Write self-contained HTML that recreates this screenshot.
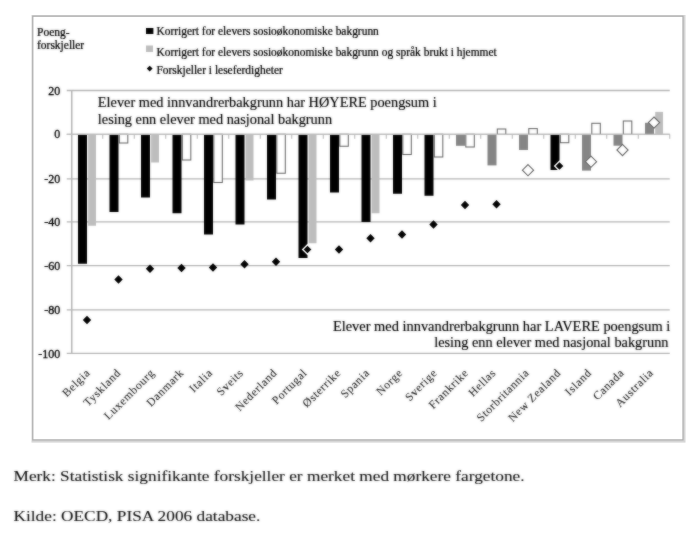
<!DOCTYPE html>
<html lang="no"><head><meta charset="utf-8"><title>Poengforskjeller i lesing</title>
<style>
html,body{margin:0;padding:0;background:#fff;}
body{width:700px;height:541px;overflow:hidden;position:relative;font-family:"Liberation Serif","Times New Roman",serif;}
svg{position:absolute;left:0;top:0;}
svg text{font-family:"Liberation Serif","Times New Roman",serif;fill:#0a0a0a;stroke:#0a0a0a;stroke-width:0.3px;}
.leg{font-size:11.45px;stroke-width:0.2px;}
.ann{font-size:14.33px;stroke-width:0.12px;}
.yl{font-size:12px;text-anchor:end;}
.xl{font-size:11.6px;letter-spacing:0.64px;text-anchor:end;stroke-width:0.05px;fill:#2a2a2a;stroke:#2a2a2a;}
.note{font-size:17.3px;stroke-width:0.1px;fill:#1c1c1c;stroke:#1c1c1c;}
</style></head><body>
<svg width="700" height="541" viewBox="0 0 700 541">
<defs><filter id="tb" x="0" y="0" width="700" height="541" filterUnits="userSpaceOnUse" color-interpolation-filters="sRGB"><feGaussianBlur in="SourceGraphic" stdDeviation="0.85" result="b"/><feComposite in="SourceGraphic" in2="b" operator="arithmetic" k1="0" k2="0.5" k3="0.6" k4="0"/></filter><filter id="sb" x="0" y="0" width="700" height="541" filterUnits="userSpaceOnUse" color-interpolation-filters="sRGB"><feGaussianBlur in="SourceGraphic" stdDeviation="0.85" result="b"/><feComposite in="SourceGraphic" in2="b" operator="arithmetic" k1="0" k2="0.55" k3="0.45" k4="0"/></filter></defs>
<rect x="31.5" y="15" width="654" height="427.6" fill="#d6d6d6"/>
<rect x="32.8" y="16.2" width="650.2" height="423.7" fill="#fff" stroke="#adadad" stroke-width="1.2"/>
<g filter="url(#sb)">
<g stroke="#b4b4b4" stroke-width="1.3">
<line x1="66.75" y1="90.5" x2="669.75" y2="90.5"/>
<line x1="66.75" y1="134.3" x2="669.75" y2="134.3"/>
<line x1="66.75" y1="178.9" x2="669.75" y2="178.9"/>
<line x1="66.75" y1="221.9" x2="669.75" y2="221.9"/>
<line x1="66.75" y1="265.6" x2="669.75" y2="265.6"/>
<line x1="66.75" y1="309.9" x2="669.75" y2="309.9"/>
<line x1="66.75" y1="353.4" x2="669.75" y2="353.4"/>
<line x1="71.75" y1="90.5" x2="71.75" y2="353.4" stroke-width="1.5"/>
<line x1="102.75" y1="134.3" x2="102.75" y2="138.8" stroke-width="1"/>
<line x1="134.25" y1="134.3" x2="134.25" y2="138.8" stroke-width="1"/>
<line x1="165.75" y1="134.3" x2="165.75" y2="138.8" stroke-width="1"/>
<line x1="197.25" y1="134.3" x2="197.25" y2="138.8" stroke-width="1"/>
<line x1="228.75" y1="134.3" x2="228.75" y2="138.8" stroke-width="1"/>
<line x1="260.25" y1="134.3" x2="260.25" y2="138.8" stroke-width="1"/>
<line x1="291.75" y1="134.3" x2="291.75" y2="138.8" stroke-width="1"/>
<line x1="323.25" y1="134.3" x2="323.25" y2="138.8" stroke-width="1"/>
<line x1="354.75" y1="134.3" x2="354.75" y2="138.8" stroke-width="1"/>
<line x1="386.25" y1="134.3" x2="386.25" y2="138.8" stroke-width="1"/>
<line x1="417.75" y1="134.3" x2="417.75" y2="138.8" stroke-width="1"/>
<line x1="449.25" y1="134.3" x2="449.25" y2="138.8" stroke-width="1"/>
<line x1="480.75" y1="134.3" x2="480.75" y2="138.8" stroke-width="1"/>
<line x1="512.25" y1="134.3" x2="512.25" y2="138.8" stroke-width="1"/>
<line x1="543.75" y1="134.3" x2="543.75" y2="138.8" stroke-width="1"/>
<line x1="575.25" y1="134.3" x2="575.25" y2="138.8" stroke-width="1"/>
<line x1="606.75" y1="134.3" x2="606.75" y2="138.8" stroke-width="1"/>
<line x1="638.25" y1="134.3" x2="638.25" y2="138.8" stroke-width="1"/>
<line x1="669.75" y1="134.3" x2="669.75" y2="138.8" stroke-width="1"/>
</g>
<rect x="78.00" y="134.30" width="9.00" height="129.45" fill="#000"/>
<rect x="88.20" y="134.30" width="7.80" height="91.45" fill="#bdbdbd"/>
<rect x="109.50" y="134.30" width="9.00" height="77.70" fill="#000"/>
<rect x="119.30" y="134.30" width="8.50" height="8.70" fill="#fff" stroke="#666" stroke-width="1.05"/>
<rect x="141.00" y="134.30" width="9.00" height="63.20" fill="#000"/>
<rect x="151.20" y="134.30" width="7.80" height="28.20" fill="#bdbdbd"/>
<rect x="172.50" y="134.30" width="9.00" height="78.95" fill="#000"/>
<rect x="182.30" y="134.30" width="8.50" height="25.70" fill="#fff" stroke="#666" stroke-width="1.05"/>
<rect x="204.00" y="134.30" width="9.00" height="100.20" fill="#000"/>
<rect x="213.80" y="134.30" width="8.50" height="48.20" fill="#fff" stroke="#666" stroke-width="1.05"/>
<rect x="235.50" y="134.30" width="9.00" height="90.20" fill="#000"/>
<rect x="245.70" y="134.30" width="7.80" height="46.20" fill="#bdbdbd"/>
<rect x="267.00" y="134.30" width="9.00" height="65.20" fill="#000"/>
<rect x="276.80" y="134.30" width="8.50" height="38.95" fill="#fff" stroke="#666" stroke-width="1.05"/>
<rect x="298.50" y="134.30" width="9.00" height="123.70" fill="#000"/>
<rect x="308.70" y="134.30" width="7.80" height="108.95" fill="#bdbdbd"/>
<rect x="330.00" y="134.30" width="9.00" height="58.20" fill="#000"/>
<rect x="339.80" y="134.30" width="8.50" height="11.95" fill="#fff" stroke="#666" stroke-width="1.05"/>
<rect x="361.50" y="134.30" width="9.00" height="87.70" fill="#000"/>
<rect x="371.70" y="134.30" width="7.80" height="78.95" fill="#bdbdbd"/>
<rect x="393.00" y="134.30" width="9.00" height="59.45" fill="#000"/>
<rect x="402.80" y="134.30" width="8.50" height="20.20" fill="#fff" stroke="#666" stroke-width="1.05"/>
<rect x="424.50" y="134.30" width="9.00" height="61.45" fill="#000"/>
<rect x="434.30" y="134.30" width="8.50" height="22.70" fill="#fff" stroke="#666" stroke-width="1.05"/>
<rect x="456.00" y="134.30" width="9.00" height="11.50" fill="#858585"/>
<rect x="465.80" y="134.30" width="8.50" height="12.70" fill="#fff" stroke="#666" stroke-width="1.05"/>
<rect x="487.50" y="134.30" width="9.00" height="31.10" fill="#858585"/>
<rect x="497.30" y="129.00" width="8.50" height="5.30" fill="#fff" stroke="#666" stroke-width="1.05"/>
<rect x="519.00" y="134.30" width="9.00" height="15.70" fill="#858585"/>
<rect x="528.80" y="128.60" width="8.50" height="5.70" fill="#fff" stroke="#666" stroke-width="1.05"/>
<rect x="550.50" y="134.30" width="9.00" height="35.70" fill="#000"/>
<rect x="560.30" y="134.30" width="8.50" height="8.40" fill="#fff" stroke="#666" stroke-width="1.05"/>
<rect x="582.00" y="134.30" width="9.00" height="36.30" fill="#858585"/>
<rect x="591.80" y="123.30" width="8.50" height="11.00" fill="#fff" stroke="#666" stroke-width="1.05"/>
<rect x="613.50" y="134.30" width="9.00" height="11.40" fill="#858585"/>
<rect x="623.30" y="121.00" width="8.50" height="13.30" fill="#fff" stroke="#666" stroke-width="1.05"/>
<rect x="645.00" y="122.80" width="9.00" height="11.50" fill="#858585"/>
<rect x="655.20" y="111.90" width="7.80" height="22.40" fill="#bdbdbd"/>
<line x1="66.75" y1="134.3" x2="669.75" y2="134.3" stroke="#bcbcbc" stroke-width="1.3"/>
<path d="M87.00 315.80L91.20 320.00L87.00 324.20L82.80 320.00Z" fill="#000"/>
<path d="M118.50 275.30L122.70 279.50L118.50 283.70L114.30 279.50Z" fill="#000"/>
<path d="M150.00 264.55L154.20 268.75L150.00 272.95L145.80 268.75Z" fill="#000"/>
<path d="M181.50 263.80L185.70 268.00L181.50 272.20L177.30 268.00Z" fill="#000"/>
<path d="M213.00 263.30L217.20 267.50L213.00 271.70L208.80 267.50Z" fill="#000"/>
<path d="M244.50 260.05L248.70 264.25L244.50 268.45L240.30 264.25Z" fill="#000"/>
<path d="M276.00 257.55L280.20 261.75L276.00 265.95L271.80 261.75Z" fill="#000"/>
<path d="M307.50 244.70L312.30 249.50L307.50 254.30L302.70 249.50Z" fill="#000" stroke="#fff" stroke-width="1.4"/>
<path d="M339.00 245.30L343.20 249.50L339.00 253.70L334.80 249.50Z" fill="#000"/>
<path d="M370.50 234.05L374.70 238.25L370.50 242.45L366.30 238.25Z" fill="#000"/>
<path d="M402.00 230.30L406.20 234.50L402.00 238.70L397.80 234.50Z" fill="#000"/>
<path d="M433.50 220.30L437.70 224.50L433.50 228.70L429.30 224.50Z" fill="#000"/>
<path d="M465.00 200.80L469.20 205.00L465.00 209.20L460.80 205.00Z" fill="#000"/>
<path d="M496.50 200.05L500.70 204.25L496.50 208.45L492.30 204.25Z" fill="#000"/>
<path d="M528.00 164.60L533.60 170.20L528.00 175.80L522.40 170.20Z" fill="#fff" stroke="#666" stroke-width="1.1"/>
<path d="M559.50 161.20L564.30 166.00L559.50 170.80L554.70 166.00Z" fill="#000" stroke="#fff" stroke-width="1.4"/>
<path d="M591.00 156.10L596.60 161.70L591.00 167.30L585.40 161.70Z" fill="#fff" stroke="#666" stroke-width="1.1"/>
<path d="M622.50 144.40L628.10 150.00L622.50 155.60L616.90 150.00Z" fill="#fff" stroke="#666" stroke-width="1.1"/>
<path d="M654.00 117.00L659.60 122.60L654.00 128.20L648.40 122.60Z" fill="#fff" stroke="#666" stroke-width="1.1"/>
<rect x="146" y="28" width="7.4" height="6" fill="#000"/>
<rect x="146" y="45.5" width="7" height="6.5" fill="#bdbdbd"/>
<path d="M149.70 65.70L152.60 68.60L149.70 71.50L146.80 68.60Z" fill="#000"/>
</g>
<g filter="url(#tb)">
<text class="yl" x="60.3" y="94.6">20</text>
<text class="yl" x="60.3" y="138.4">0</text>
<text class="yl" x="60.3" y="183.0">-20</text>
<text class="yl" x="60.3" y="226.0">-40</text>
<text class="yl" x="60.3" y="269.7">-60</text>
<text class="yl" x="60.3" y="314.0">-80</text>
<text class="yl" x="60.3" y="357.5">-100</text>
<text class="xl" transform="translate(90.85 373.5) rotate(-45)">Belgia</text>
<text class="xl" transform="translate(121.60 373.5) rotate(-45)">Tyskland</text>
<text class="xl" transform="translate(155.35 373.5) rotate(-45)">Luxembourg</text>
<text class="xl" transform="translate(184.60 373.5) rotate(-45)">Danmark</text>
<text class="xl" transform="translate(213.35 373.5) rotate(-45)">Italia</text>
<text class="xl" transform="translate(244.10 373.5) rotate(-45)">Sveits</text>
<text class="xl" transform="translate(277.85 373.5) rotate(-45)">Nederland</text>
<text class="xl" transform="translate(307.85 373.5) rotate(-45)">Portugal</text>
<text class="xl" transform="translate(341.60 373.5) rotate(-45)">Østerrike</text>
<text class="xl" transform="translate(370.35 373.5) rotate(-45)">Spania</text>
<text class="xl" transform="translate(403.35 373.5) rotate(-45)">Norge</text>
<text class="xl" transform="translate(437.85 373.5) rotate(-45)">Sverige</text>
<text class="xl" transform="translate(469.10 373.5) rotate(-45)">Frankrike</text>
<text class="xl" transform="translate(496.60 373.5) rotate(-45)">Hellas</text>
<text class="xl" transform="translate(529.85 373.5) rotate(-45)">Storbritannia</text>
<text class="xl" transform="translate(561.60 373.5) rotate(-45)">New Zealand</text>
<text class="xl" transform="translate(592.35 373.5) rotate(-45)">Island</text>
<text class="xl" transform="translate(624.85 373.5) rotate(-45)">Canada</text>
<text class="xl" transform="translate(654.10 373.5) rotate(-45)">Australia</text>
<text class="leg" transform="translate(37.0 35.9) scale(1 1.15)" style="font-size:11.5px">Poeng-</text>
<text class="leg" transform="translate(37.0 49.4) scale(1 1.15)" style="font-size:11.5px">forskjeller</text>
<text class="leg" transform="translate(156.4 34.8) scale(1 1.09)">Korrigert for elevers sosioøkonomiske bakgrunn</text>
<text class="leg" transform="translate(156.4 56.2) scale(1 1.09)">Korrigert for elevers sosioøkonomiske bakgrunn og språk brukt i hjemmet</text>
<text class="leg" transform="translate(156.4 74.4) scale(1 1.09)">Forskjeller i leseferdigheter</text>
<text class="ann" transform="translate(97.8 107.4) scale(1 1.05)">Elever med innvandrerbakgrunn har HØYERE poengsum i</text>
<text class="ann" transform="translate(97.8 124.3) scale(1 1.05)">lesing enn elever med nasjonal bakgrunn</text>
<text class="ann" transform="translate(670.2 330.8) scale(1 1.05)" text-anchor="end" style="font-size:14.42px">Elever med innvandrerbakgrunn har LAVERE poengsum i</text>
<text class="ann" transform="translate(668.5 346.5) scale(1 1.05)" text-anchor="end">lesing enn elever med nasjonal bakgrunn</text>
<text class="note" transform="translate(13.5 480.6) scale(1 0.885)">Merk: Statistisk signifikante forskjeller er merket med mørkere fargetone.</text>
<text class="note" transform="translate(13.5 520.6) scale(1 0.885)">Kilde: OECD, PISA 2006 database.</text>
</g>
</svg>
</body></html>
